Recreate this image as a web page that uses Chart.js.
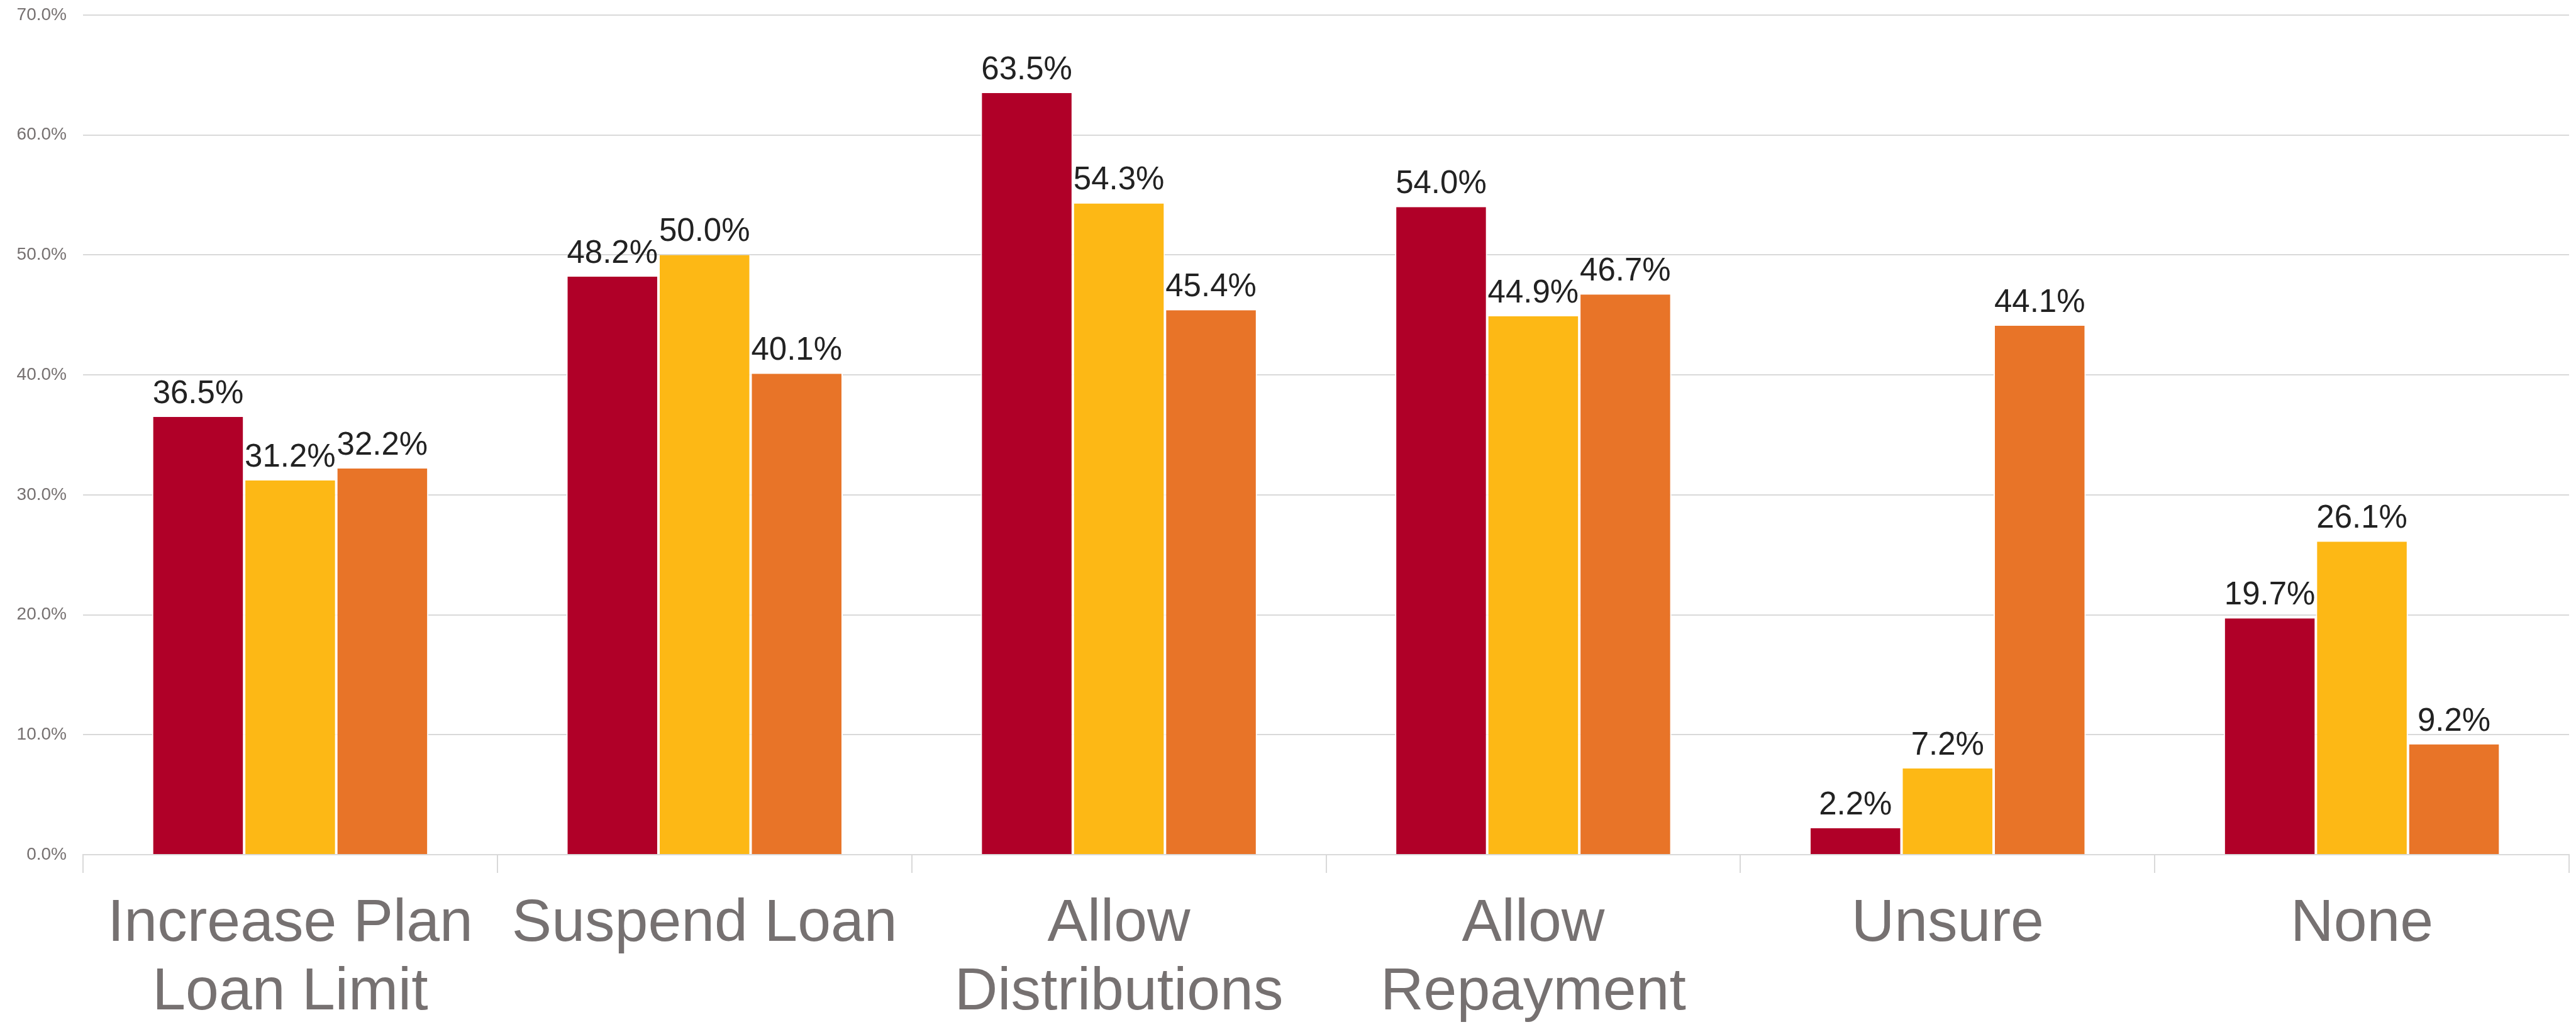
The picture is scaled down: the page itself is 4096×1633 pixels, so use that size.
<!DOCTYPE html>
<html>
<head>
<meta charset="utf-8">
<script src="https://cdn.jsdelivr.net/npm/chart.js@4/dist/chart.umd.min.js"></script>
<style>
    html, body { margin: 0; padding: 0; background: #fff; }
    canvas { display: block; }
</style>
</head>
<body>
<canvas id="loanChart" width="4096" height="1633"></canvas>
<script>
const categories = [
    ['Increase Plan', 'Loan Limit'],
    'Suspend Loan',
    ['Allow', 'Distributions'],
    ['Allow', 'Repayment'],
    'Unsure',
    'None',
];
const seriesNames = ['Series 1', 'Series 2', 'Series 3'];
const seriesA = [36.5, 48.2, 63.5, 54.0, 2.2, 19.7];
const seriesB = [31.2, 50.0, 54.3, 44.9, 7.2, 26.1];
const seriesC = [32.2, 40.1, 45.4, 46.7, 44.1, 9.2];
const seriesColors = ['#B00028', '#FDB815', '#E87428'];
const yTicks = [0, 10, 20, 30, 40, 50, 60, 70];

const axisGrey = '#D9D9D9';
const labelGrey = '#767171';

// value labels above each bar
const barValueLabels = {
    id: 'barValueLabels',
    afterDatasetsDraw(chart) {
        const ctx = chart.ctx;
        ctx.save();
        ctx.font = '51px "Liberation Sans", Arial, sans-serif';
        ctx.fillStyle = '#222222';
        ctx.textAlign = 'center';
        ctx.textBaseline = 'alphabetic';
        chart.data.datasets.forEach((dataset, i) => {
            chart.getDatasetMeta(i).data.forEach((bar, j) => {
                ctx.fillText(dataset.data[j].toFixed(1) + '%', bar.x, bar.y - 22);
            });
        });
        ctx.restore();
    },
};

const datasets = [seriesA, seriesB, seriesC].map((values, i) => ({
    label: seriesNames[i],
    data: values,
    backgroundColor: seriesColors[i],
    borderColor: '#ffffff',
    borderWidth: { left: 2, right: 2, top: 0, bottom: 0 },
    borderSkipped: false,
    barPercentage: 1,
    categoryPercentage: 0.667,
}));

new Chart(document.getElementById('loanChart').getContext('2d'), {
    type: 'bar',
    data: { labels: categories, datasets },
    plugins: [barValueLabels],
    options: {
        responsive: false,
        animation: false,
        layout: { padding: { top: 24, right: 11, left: 0, bottom: 0 } },
        plugins: {
            legend: { display: false },
            tooltip: { enabled: false },
        },
        scales: {
            x: {
                grid: {
                    offset: true,
                    drawOnChartArea: false,
                    drawTicks: true,
                    tickLength: 29,
                    color: axisGrey,
                    lineWidth: 2,
                },
                border: { display: true, color: axisGrey, width: 2 },
                ticks: {
                    autoSkip: false,
                    maxRotation: 0,
                    minRotation: 0,
                    padding: 27,
                    color: labelGrey,
                    font: { family: '"Liberation Sans", Arial, sans-serif', size: 95, lineHeight: 1.15 },
                },
                afterFit: scale => { scale.height = 274; },
            },
            y: {
                min: yTicks[0],
                max: yTicks[yTicks.length - 1],
                afterBuildTicks: scale => { scale.ticks = yTicks.map(v => ({ value: v })); },
                grid: { color: axisGrey, lineWidth: 2, drawTicks: false },
                border: { display: false },
                ticks: {
                    padding: 26,
                    color: labelGrey,
                    font: { family: '"Liberation Sans", Arial, sans-serif', size: 28 },
                    callback: value => Number(value).toFixed(1) + '%',
                },
                // fixed axis width; label padding should not push the plot down
                afterFit: scale => {
                    scale.width = 132;
                    scale.paddingTop = 0;
                    scale.paddingBottom = 0;
                },
            },
        },
    },
});
</script>
</body>
</html>
